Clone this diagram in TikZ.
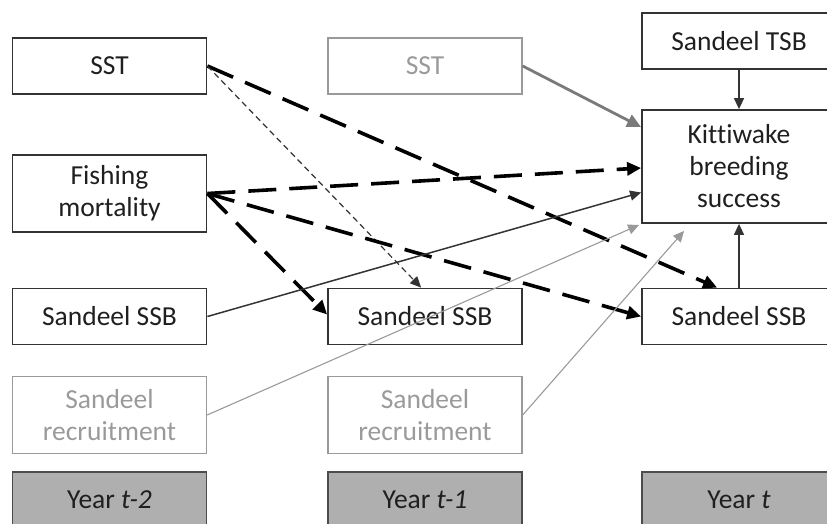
\documentclass[tikz,border=0pt]{standalone}
\usepackage{fontspec}
\setmainfont{Carlito}[Ligatures={NoCommon,NoContextual,NoRequired}]
\usetikzlibrary{arrows.meta,calc}
\definecolor{kdark}{HTML}{333333}
\definecolor{kgray}{HTML}{7A7A7A}
\definecolor{klight}{HTML}{9A9A9A}
\definecolor{kyear}{HTML}{AFAFAF}

\begin{document}
\begin{tikzpicture}[x=1pt,y=-1pt,
  box/.style={draw=kdark, line width=1.8pt, minimum width=194pt, minimum height=56pt,
    inner sep=0pt, align=center, text=black!88, font=\fontsize{27.5}{32}\selectfont},
  tallbox/.style={box, minimum height=77pt},
  greybox/.style={tallbox, draw=klight, line width=1.4pt, text=klight},
  yearbox/.style={box, fill=kyear, draw=black!70},
  bigdash/.style={line width=3.6pt, dash pattern=on 28pt off 13pt, -{Triangle[length=14pt,width=13pt]}},
  thindash/.style={line width=1.2pt, draw=black!80, dash pattern=on 6pt off 4pt, -{Triangle[length=11pt,width=10pt]}},
  thinarrow/.style={line width=1.5pt, draw=kdark, -{Triangle[length=11pt,width=10pt]}},
  grayarrow/.style={line width=2.8pt, draw=kgray, -{Triangle[length=14pt,width=13pt]}},
  lightarrow/.style={line width=1.1pt, draw=klight, -{Triangle[length=11pt,width=10pt]}}]
 \useasboundingbox (0,0) rectangle (827,524);
 \clip (0,0) rectangle (827,524);
 % year t-2
 \node[box] (sstA) at (109.5,66) {SST};
 \node[tallbox] (fishA) at (109.5,193.5) {Fishing\\mortality};
 \node[box] (ssbA) at (109.5,316.5) {Sandeel SSB};
 \node[greybox] (recA) at (109.5,415) {Sandeel\\recruitment};
 \node[yearbox] (yearA) at (109.5,500) {Year \textit{t-2}};
 % year t-1
 \node[box, draw=klight, line width=1.4pt, text=klight] (sstB) at (425,66) {SST};
 \node[box] (ssbB) at (425,316.5) {Sandeel SSB};
 \node[greybox] (recB) at (425,415) {Sandeel\\recruitment};
 \node[yearbox] (yearB) at (425,500) {Year \textit{t-1}};
 % year t
 \node[box] (tsb) at (739,41) {Sandeel TSB};
 \node[box, minimum height=113pt] (kitti) at (739,166.5) {Kittiwake\\breeding\\success};
 \node[box] (ssbC) at (739,316.5) {Sandeel SSB};
 \node[yearbox] (yearC) at (739,500) {Year \textit{t}};
 % links
 \draw[bigdash] (sstA.east) -- ($(ssbC.north west)+(76,0)$);
 \draw[thindash] (sstA.east) -- ($(ssbB.north west)+(94,0)$);
 \draw[grayarrow] (sstB.east) -- ($(kitti.north west)+(0,18)$);
 \draw[bigdash] (fishA.east) -- ($(kitti.west)+(0,1.5)$);
 \draw[bigdash] (fishA.east) -- ($(ssbB.west)+(0,-2)$);
 \draw[bigdash] (fishA.east) -- (ssbC.west);
 \draw[thinarrow] (ssbA.east) -- ($(kitti.west)+(0,26)$);
 \draw[lightarrow] (recA.east) -- ($(kitti.south west)+(-2,1)$);
 \draw[lightarrow] (recB.east) -- ($(kitti.south west)+(43,7)$);
 \draw[thinarrow] (tsb) -- (kitti);
 \draw[thinarrow] (ssbC) -- (kitti);
\end{tikzpicture}
\end{document}
